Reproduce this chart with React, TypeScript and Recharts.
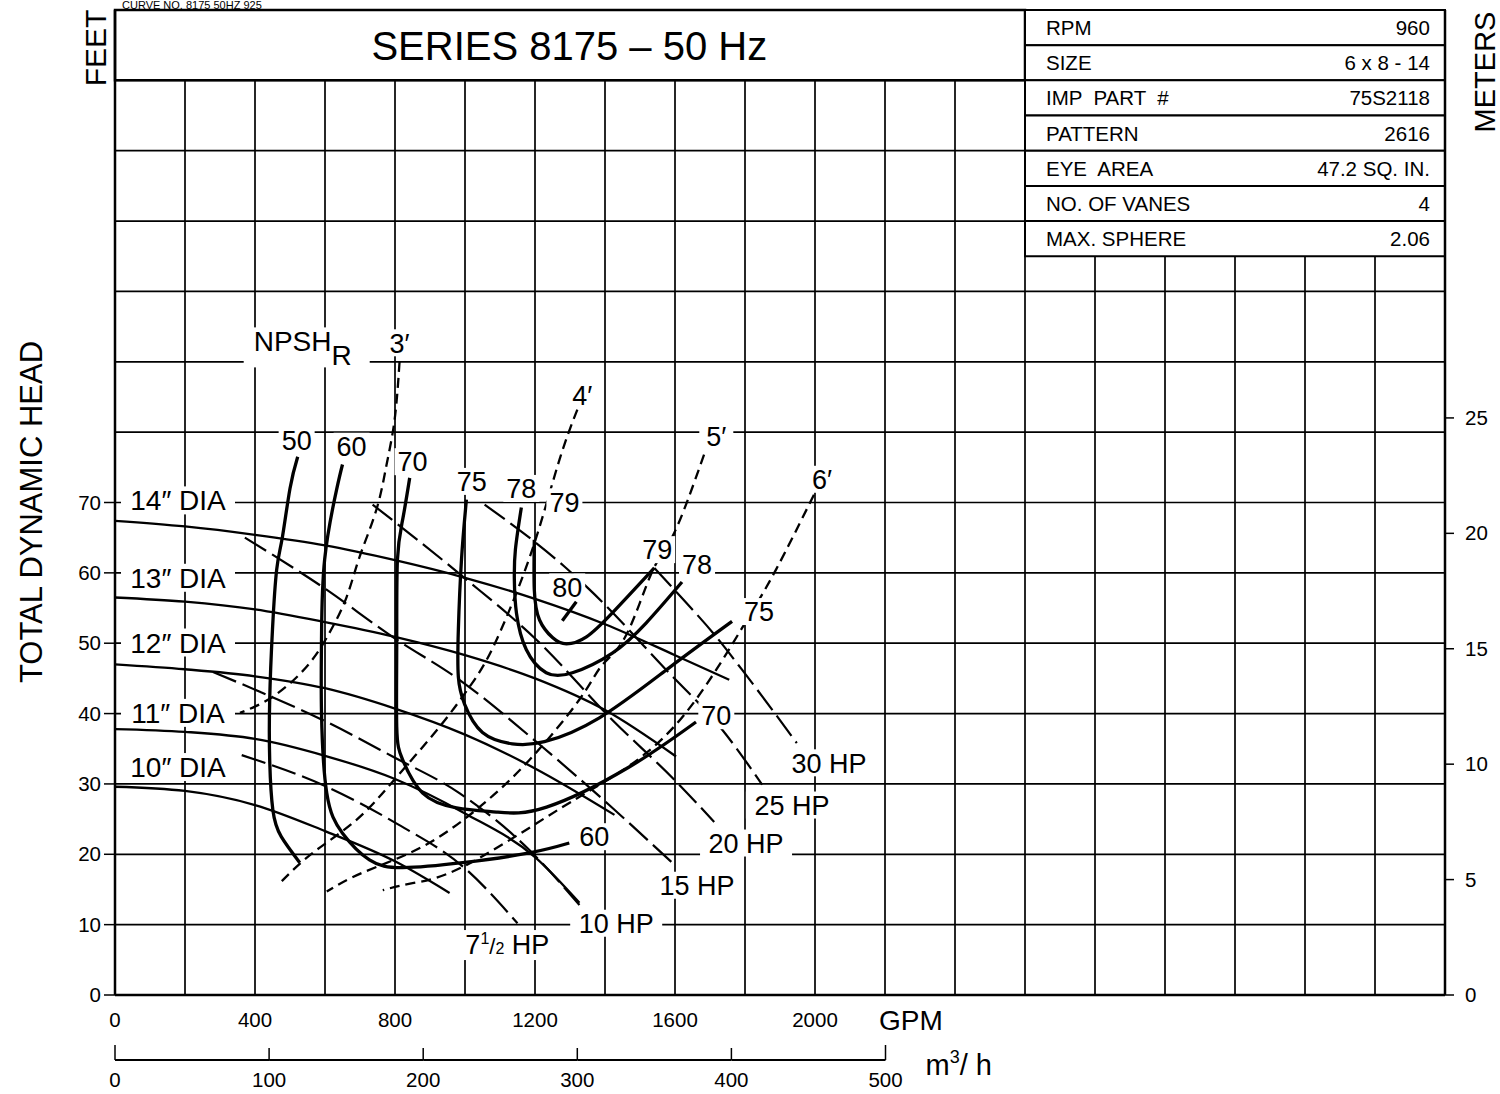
import React from 'react';
import { ComposedChart, Line, XAxis, YAxis, CartesianGrid, ReferenceArea, ReferenceDot } from 'recharts';

const FONT = '"Liberation Sans", Arial, Helvetica, sans-serif';
type P = [number, number];
const toData = (pts: P[]) => pts.map(([x, y]) => ({ x, y }));

// ---- axis ticks ----
const gpmGridTicks = [0, 200, 400, 600, 800, 1000, 1200, 1400, 1600, 1800, 2000, 2200, 2400, 2600, 2800, 3000, 3200, 3400, 3600, 3800];
const gpmLabelTicks = [0, 400, 800, 1200, 1600, 2000];
const ftGridTicks = [0, 10, 20, 30, 40, 50, 60, 70, 80, 90, 100, 110, 120, 130, 140];
const ftLabelTicks = [0, 10, 20, 30, 40, 50, 60, 70];
const meterTicks = [0, 5, 10, 15, 20, 25];
const m3Ticks = [0, 100, 200, 300, 400, 500];
const GPM_PER_M3H = 4.40287;
const FT_PER_M = 3.28084;
const GPM_MAX = 3800;
const FT_MAX = 140;

// ---- head curves (GPM, ft) ----
const dia14: P[] = [[0, 67.4], [200, 66.6], [400, 65.4], [600, 63.9], [800, 61.8], [1000, 59.3], [1200, 56.3], [1400, 52.7], [1600, 48.3], [1755, 44.8]];
const dia13: P[] = [[0, 56.5], [200, 55.9], [400, 54.8], [600, 53.0], [800, 50.9], [1000, 48.3], [1200, 45.0], [1400, 40.5], [1603, 33.9]];
const dia12: P[] = [[0, 47.0], [200, 46.3], [400, 45.3], [600, 43.6], [800, 40.7], [1000, 37.0], [1200, 32.2], [1427, 25.6]];
const dia11: P[] = [[0, 37.8], [200, 37.4], [400, 36.4], [600, 34.0], [800, 30.7], [1000, 25.8], [1200, 19.6], [1327, 13.1]];
const dia10: P[] = [[0, 29.6], [200, 29.0], [400, 27.0], [600, 23.3], [800, 19.0], [956, 14.5]];

// ---- efficiency curves ----
const eff50: P[] = [[522, 76.5], [500, 72], [478, 65], [462, 60.5], [450, 52], [442, 42], [442, 33.4], [451, 26.3], [475, 22.5], [528, 18.8]];
const eff60: P[] = [[650, 75.4], [633, 71.8], [599, 61.9], [590, 50.5], [590, 40.1], [605, 28.7], [650, 23.0], [727, 19.2], [822, 18.1], [993, 18.8], [1184, 20.2], [1298, 21.6]];
const eff70: P[] = [[842, 73.5], [822, 67.6], [807, 61.9], [805, 50.1], [805, 38.1], [822, 33.4], [879, 28.7], [976, 26.6], [1090, 26.0], [1233, 26.7], [1469, 32.4], [1660, 38.8]];
const eff75: P[] = [[1004, 70.4], [990, 61.9], [981, 51.9], [981, 45.2], [999, 41.3], [1050, 37.3], [1135, 35.7], [1227, 36.0], [1384, 39.4], [1583, 46.5], [1763, 53.1]];
const eff78: P[] = [[1161, 69.3], [1144, 63.3], [1141, 59.0], [1147, 54.3], [1175, 49.1], [1232, 45.8], [1307, 45.8], [1421, 48.6], [1518, 52.9], [1620, 58.7]];
const eff79: P[] = [[1198, 64.7], [1198, 57.6], [1213, 53.3], [1250, 50.8], [1290, 49.9], [1347, 50.9], [1421, 54.3], [1541, 60.7]];
const eff80: P[] = [[1278, 53.2], [1318, 55.9]];

// ---- NPSHr curves ----
const npsh3: P[] = [[813, 90], [799, 81.8], [776, 75.4], [747, 69], [699, 62.3], [662, 56.6], [613, 51.5], [548, 46.7], [451, 42.4], [357, 40.1]];
const npsh4: P[] = [[1321, 83.2], [1270, 76.1], [1204, 65.1], [1136, 55.8], [1070, 48.4], [1013, 43.8], [927, 38.1], [805, 31], [690, 24.9], [565, 20.2], [471, 15.9]];
const npsh5: P[] = [[1683, 76.8], [1598, 65.7], [1535, 60.2], [1461, 51.2], [1392, 46.9], [1327, 42], [1184, 33.4], [1041, 26.7], [879, 21.1], [708, 17.4], [605, 14.7]];
const npsh6: P[] = [[1997, 71.1], [1889, 60.5], [1797, 52.6], [1660, 42], [1518, 34.4], [1375, 29.6], [1233, 25.3], [993, 18.2], [850, 15.9], [765, 14.9]];

// ---- horsepower lines ----
const hp7half: P[] = [[362, 34.1], [605, 29.6], [800, 24.5], [1000, 18], [1150, 10.2]];
const hp10: P[] = [[280, 45.9], [414, 43.1], [593, 39.1], [793, 33.9], [984, 28.7], [1184, 20.6], [1327, 12.8]];
const hp15: P[] = [[371, 65], [593, 58], [793, 50.9], [984, 44.8], [1213, 35.6], [1412, 27], [1592, 18.8]];
const hp20: P[] = [[736, 69.7], [993, 59.5], [1204, 50.5], [1421, 39.1], [1600, 30.5], [1712, 24.6]];
const hp25: P[] = [[1056, 69.7], [1284, 60.9], [1350, 57.9], [1575, 46.2], [1735, 37.7], [1849, 29.9]];
const hp30: P[] = [[1541, 60.7], [1598, 57.6], [1718, 50.9], [1792, 46.2], [1948, 35.8]];

// ---- m3/h scale extent ----
const m3Extent: P[] = [[0, 0], [500, 0]];

// ---- text labels (text, GPM, ft) ----
const diaLabels: [string, number, number][] = [['14″ DIA', 180, 70.3], ['13″ DIA', 180, 59.3], ['12″ DIA', 180, 50.1], ['11″ DIA', 180, 40.1], ['10″ DIA', 180, 32.4]];
const effLabels: [string, number, number][] = [['50', 519, 78.9], ['60', 676, 78.0], ['70', 850, 75.8], ['75', 1019, 73.0], ['78', 1161, 72.0], ['79', 1284, 70.1], ['80', 1292, 58.0], ['79', 1549, 63.3], ['78', 1663, 61.2], ['75', 1840, 54.5], ['70', 1718, 39.7], ['60', 1369, 22.5]];
const npshLabels: [string, number, number][] = [['3′', 813, 92.7], ['4′', 1335, 85.3], ['5′', 1718, 79.4], ['6′', 2020, 73.3]];
const hpLabels: [string, number, number][] = [['30 HP', 2040, 33.0], ['25 HP', 1934, 27.0], ['20 HP', 1803, 21.6], ['15 HP', 1663, 15.6], ['10 HP', 1432, 10.2]];
const hp7Label: [number, number] = [1121, 7.1];
const npshTitlePos: [number, number] = [522, 92.9];

const titleText = 'SERIES 8175 – 50 Hz';
const titlePos: [number, number] = [1298, 135];
const curveNoText = 'CURVE NO. 8175 50HZ 925';
const tableRows: [string, string][] = [
  ['RPM', '960'], ['SIZE', '6 x 8 - 14'], ['IMP  PART  #', '75S2118'], ['PATTERN', '2616'],
  ['EYE  AREA', '47.2 SQ. IN.'], ['NO. OF VANES', '4'], ['MAX. SPHERE', '2.06'],
];
const TABLE_X1 = 2600;
const TABLE_LABEL_X = 2660;
const TABLE_VALUE_X = 3757;
const ROW_H = 5;

const PLOT_W = 1330;
const M3_MAX = GPM_MAX / GPM_PER_M3H;
const m3StepPx = (PLOT_W * 100) / M3_MAX;

const TICK_FS = 20.5;

const headStyle = { stroke: '#000', strokeWidth: 2.3 };
const effStyle = { stroke: '#000', strokeWidth: 3.3 };
const hpStyle = { stroke: '#000', strokeWidth: 2.2, strokeDasharray: '25 7' };
const npshStyle = { stroke: '#000', strokeWidth: 2.3, strokeDasharray: '10 6' };

const TextTag = ({ cx, cy, text, size = 27, bg = true, anchor = 'middle', w }: any) => {
  const width = w ?? text.length * size * 0.6 + 8;
  const h = size * 1.0;
  const rx = anchor === 'middle' ? cx - width / 2 : anchor === 'start' ? cx - 4 : cx - width + 4;
  return (
    <g>
      {bg && <rect x={rx} y={cy - h / 2} width={width} height={h} fill="#fff" />}
      <text x={cx} y={cy + size * 0.36} textAnchor={anchor} fontSize={size} fontFamily={FONT} fill="#000"
        style={{ whiteSpace: 'pre' }}>{text}</text>
    </g>
  );
};

const GpmTick = ({ x, y, payload }: any) => {
  const v = payload.value;
  return (
    <g>
      {gpmLabelTicks.includes(v) && (
        <text x={x} y={y + 32} textAnchor="middle" fontSize={TICK_FS} fontFamily={FONT} fill="#000">{v}</text>
      )}
      {v === 2200 && (
        <text x={x - 6} y={y + 35} textAnchor="start" fontSize={28} fontFamily={FONT} fill="#000">GPM</text>
      )}
    </g>
  );
};

const M3Tick = ({ x, y, payload }: any) => {
  const v = payload.value;
  const long = v === 0 || v === 500;
  return (
    <g>
      <line x1={x} x2={x} y1={y + (long ? 5 : 8)} y2={y + 20} stroke="#000" strokeWidth={1.5} />
      {v > 0 && <line x1={x - m3StepPx} x2={x} y1={y + 20} y2={y + 20} stroke="#000" strokeWidth={2} />}
      <text x={x} y={y + 47} textAnchor="middle" fontSize={TICK_FS} fontFamily={FONT} fill="#000">{v}</text>
      {v === 500 && (
        <text x={x + 40} y={y + 35} fontSize={29} fontFamily={FONT} fill="#000">
          m<tspan dy={-12} fontSize={18}>3</tspan><tspan dy={12}>/ h</tspan>
        </text>
      )}
    </g>
  );
};

const FtTick = ({ x, y, payload }: any) => {
  const v = payload.value;
  if (!ftLabelTicks.includes(v)) return <g />;
  return (
    <g>
      <line x1={x - 11} x2={x} y1={y} y2={y} stroke="#000" strokeWidth={1.5} />
      <text x={x - 14} y={y + 7} textAnchor="end" fontSize={TICK_FS} fontFamily={FONT} fill="#000">{v}</text>
    </g>
  );
};

const MTick = ({ x, y, payload }: any) => (
  <g>
    <line x1={x} x2={x + 9} y1={y} y2={y} stroke="#000" strokeWidth={1.5} />
    <text x={x + 20} y={y + 7} textAnchor="start" fontSize={TICK_FS} fontFamily={FONT} fill="#000">{payload.value}</text>
  </g>
);

const LeftTitles = (props: any) => {
  const vb = props.viewBox || { x: 0, y: 10, width: 115, height: 985 };
  const { x, y } = vb;
  return (
    <g>
      <text transform={`translate(${x + 42},${y + 502}) rotate(-90)`} textAnchor="middle" fontSize={31} fontFamily={FONT} fill="#000">TOTAL DYNAMIC HEAD</text>
      <text transform={`translate(${x + 106},${y + 38}) rotate(-90)`} textAnchor="middle" fontSize={30} fontFamily={FONT} fill="#000">FEET</text>
      <text x={x + 122} y={y - 1} fontSize={11} fontFamily={FONT} fill="#000">{curveNoText}</text>
    </g>
  );
};

const RightTitles = (props: any) => {
  const vb = props.viewBox || { x: 1445, y: 10, width: 55, height: 985 };
  const { x, y } = vb;
  return (
    <text transform={`translate(${x + 50},${y + 62}) rotate(-90)`} textAnchor="middle" fontSize={29} fontFamily={FONT} fill="#000">METERS</text>
  );
};

const series: { d: P[]; s: any; t: any }[] = [
  { d: dia14, s: headStyle, t: 'monotone' }, { d: dia13, s: headStyle, t: 'monotone' },
  { d: dia12, s: headStyle, t: 'monotone' }, { d: dia11, s: headStyle, t: 'monotone' },
  { d: dia10, s: headStyle, t: 'monotone' },
  { d: hp7half, s: hpStyle, t: 'monotone' }, { d: hp10, s: hpStyle, t: 'monotone' },
  { d: hp15, s: hpStyle, t: 'monotone' }, { d: hp20, s: hpStyle, t: 'monotone' },
  { d: hp25, s: hpStyle, t: 'monotone' }, { d: hp30, s: hpStyle, t: 'monotone' },
  { d: npsh3, s: npshStyle, t: 'natural' }, { d: npsh4, s: npshStyle, t: 'natural' },
  { d: npsh5, s: npshStyle, t: 'natural' }, { d: npsh6, s: npshStyle, t: 'natural' },
  { d: eff50, s: effStyle, t: 'natural' }, { d: eff60, s: effStyle, t: 'natural' },
  { d: eff70, s: effStyle, t: 'natural' }, { d: eff75, s: effStyle, t: 'natural' },
  { d: eff78, s: effStyle, t: 'natural' }, { d: eff79, s: effStyle, t: 'natural' },
  { d: eff80, s: effStyle, t: 'linear' },
];

const AX = { xAxisId: 'g', yAxisId: 'ft' } as const;

export default function App() {
  return (
    <div style={{ position: 'absolute', left: 0, top: 0, width: 1500, height: 1094, background: '#fff', fontFamily: FONT, overflow: 'hidden' }}>
      <ComposedChart width={1500} height={1094} margin={{ top: 10, right: 0, bottom: 0, left: 0 }}>
        <CartesianGrid xAxisId="g" yAxisId="ft" stroke="#000" strokeWidth={1.7} />
        <XAxis xAxisId="g" type="number" dataKey="x" domain={[0, GPM_MAX]} ticks={gpmGridTicks} height={45}
          axisLine={{ stroke: '#000', strokeWidth: 2.5 }} tickLine={false} tickSize={0} tickMargin={0} tick={<GpmTick />} interval={0} allowDataOverflow />
        <XAxis xAxisId="m3" type="number" dataKey="x" domain={[0, M3_MAX]} ticks={m3Ticks} height={54}
          axisLine={false} tickLine={false} tickSize={0} tickMargin={0} tick={<M3Tick />} interval={0} allowDataOverflow />
        <YAxis yAxisId="ft" type="number" domain={[0, FT_MAX]} ticks={ftGridTicks} width={115}
          axisLine={{ stroke: '#000', strokeWidth: 2.5 }} tickLine={false} tickSize={0} tickMargin={0} tick={<FtTick />} interval={0}
          label={(p: any) => <LeftTitles {...p} />} allowDataOverflow />
        <YAxis yAxisId="m" orientation="right" type="number" domain={[0, FT_MAX / FT_PER_M]} ticks={meterTicks} width={55}
          axisLine={{ stroke: '#000', strokeWidth: 2.5 }} tickLine={false} tickSize={0} tickMargin={0} tick={<MTick />} interval={0}
          label={(p: any) => <RightTitles {...p} />} allowDataOverflow />

        <ReferenceArea {...AX} x1={0} x2={TABLE_X1} y1={130} y2={FT_MAX} fill="#fff" fillOpacity={1} stroke="#000" strokeWidth={2.5} />
        {tableRows.map((r, i) => (
          <ReferenceArea key={'row' + i} {...AX} x1={TABLE_X1} x2={GPM_MAX} y1={FT_MAX - (i + 1) * ROW_H} y2={FT_MAX - i * ROW_H}
            fill="#fff" fillOpacity={1} stroke="#000" strokeWidth={2} />
        ))}

        <Line xAxisId="m3" yAxisId="m" data={toData(m3Extent)} dataKey="y" stroke="none" dot={false} activeDot={false} isAnimationActive={false} />

        {series.map((s, i) => (
          <Line key={'s' + i} {...AX} data={toData(s.d)} dataKey="y" type={s.t} dot={false} activeDot={false}
            isAnimationActive={false} stroke={s.s.stroke} strokeWidth={s.s.strokeWidth} strokeDasharray={s.s.strokeDasharray} />
        ))}

        <ReferenceDot {...AX} x={titlePos[0]} y={titlePos[1]} r={1} ifOverflow="visible"
          shape={(p: any) => <TextTag cx={p.cx} cy={p.cy} text={titleText} size={40} bg={false} />} />
        {tableRows.map((r, i) => (
          <ReferenceDot key={'tl' + i} {...AX} x={TABLE_LABEL_X} y={FT_MAX - (i + 0.5) * ROW_H} r={1} ifOverflow="visible"
            shape={(p: any) => <TextTag cx={p.cx} cy={p.cy} text={r[0]} size={20.5} bg={false} anchor="start" />} />
        ))}
        {tableRows.map((r, i) => (
          <ReferenceDot key={'tv' + i} {...AX} x={TABLE_VALUE_X} y={FT_MAX - (i + 0.5) * ROW_H} r={1} ifOverflow="visible"
            shape={(p: any) => <TextTag cx={p.cx} cy={p.cy} text={r[1]} size={20.5} bg={false} anchor="end" />} />
        ))}

        {diaLabels.map((l, i) => (
          <ReferenceDot key={'dl' + i} {...AX} x={l[1]} y={l[2]} r={1} ifOverflow="visible"
            shape={(p: any) => <TextTag cx={p.cx} cy={p.cy} text={l[0]} size={28} w={114} />} />
        ))}
        {effLabels.map((l, i) => (
          <ReferenceDot key={'el' + i} {...AX} x={l[1]} y={l[2]} r={1} ifOverflow="visible"
            shape={(p: any) => <TextTag cx={p.cx} cy={p.cy} text={l[0]} size={27} w={36} />} />
        ))}
        {npshLabels.map((l, i) => (
          <ReferenceDot key={'nl' + i} {...AX} x={l[1]} y={l[2]} r={1} ifOverflow="visible"
            shape={(p: any) => <TextTag cx={p.cx} cy={p.cy} text={l[0]} size={27} w={34} />} />
        ))}
        {hpLabels.map((l, i) => (
          <ReferenceDot key={'hl' + i} {...AX} x={l[1]} y={l[2]} r={1} ifOverflow="visible"
            shape={(p: any) => <TextTag cx={p.cx} cy={p.cy} text={l[0]} size={27} w={92} />} />
        ))}
        <ReferenceDot {...AX} x={hp7Label[0]} y={hp7Label[1]} r={1} ifOverflow="visible"
          shape={(p: any) => (
            <g>
              <rect x={p.cx - 48} y={p.cy - 15} width={96} height={30} fill="#fff" />
              <text x={p.cx} y={p.cy + 9} textAnchor="middle" fontSize={27} fontFamily={FONT} fill="#000">
                7<tspan fontSize={16} dy={-10}>1</tspan><tspan fontSize={22} dy={10}>/</tspan><tspan fontSize={16} dy={0}>2</tspan><tspan dy={0}> HP</tspan>
              </text>
            </g>
          )} />
        <ReferenceDot {...AX} x={npshTitlePos[0]} y={npshTitlePos[1]} r={1} ifOverflow="visible"
          shape={(p: any) => (
            <g>
              <rect x={p.cx - 54} y={p.cy - 14} width={126} height={40} fill="#fff" />
              <text x={p.cx - 44} y={p.cy + 10} fontSize={28} fontFamily={FONT} fill="#000">
                NPSH<tspan fontSize={28} dy={14}>R</tspan>
              </text>
            </g>
          )} />
      </ComposedChart>
    </div>
  );
}
